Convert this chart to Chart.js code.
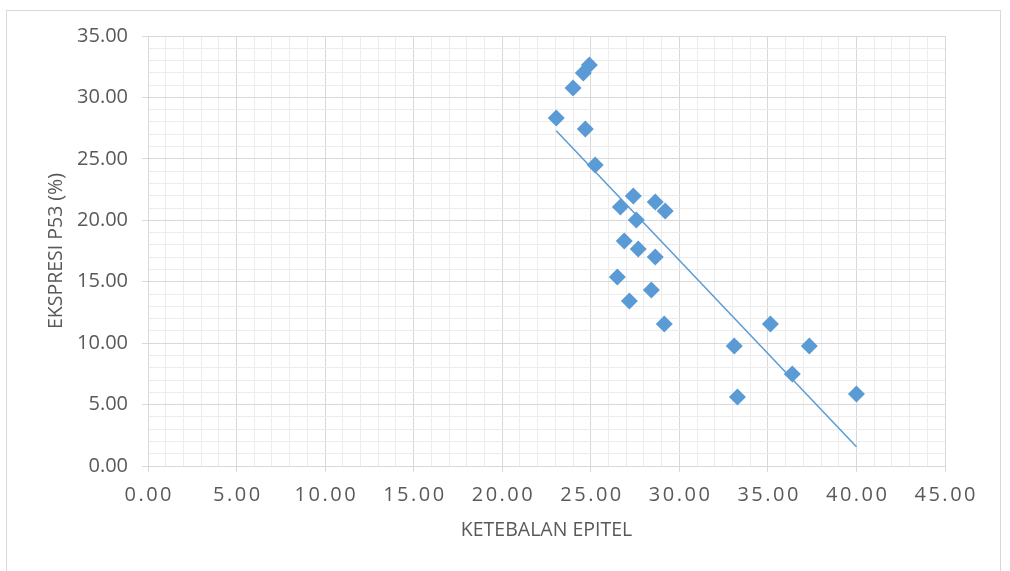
<!DOCTYPE html>
<html>
<head>
<meta charset="utf-8">
<script src="https://cdn.jsdelivr.net/npm/chart.js@4.4.1/dist/chart.umd.min.js"></script>
<style>
  html, body { margin: 0; padding: 0; background: #ffffff; }
  canvas { display: block; }
</style>
</head>
<body>
<canvas id="chart" width="1010" height="571"></canvas>
<script>
// Epithelial thickness (x) against p53 expression (%) for each sample
const ketebalanEpitel = [23.05, 24.00, 24.58, 24.92, 24.69, 25.25, 26.67, 27.40, 28.64, 29.20, 27.57, 26.89,
                         27.68, 28.64, 26.50, 28.42, 27.18, 29.15, 33.10, 35.14, 37.34, 36.38, 33.28, 40.00];
const ekspresiP53     = [28.33, 30.77, 31.99, 32.64, 27.43, 24.50, 21.08, 21.98, 21.49, 20.75, 20.02, 18.31,
                         17.66, 17.01, 15.38, 14.33, 13.43, 11.56, 9.77, 11.56, 9.77, 7.49, 5.62, 5.86];

const xTicks = [0, 5, 10, 15, 20, 25, 30, 35, 40, 45];
const yTicks = [0, 5, 10, 15, 20, 25, 30, 35];
const xTitle = 'KETEBALAN EPITEL';
const yTitle = 'EKSPRESI P53 (%)';

const pointColor = '#5B9BD5';
const textColor = '#595959';
const majorGrid = '#d9d9d9';
const minorGrid = '#ececec';

// Least-squares linear trend over the samples
function linearFit(xs, ys) {
  const n = xs.length;
  const mx = xs.reduce((a, b) => a + b, 0) / n;
  const my = ys.reduce((a, b) => a + b, 0) / n;
  let sxy = 0, sxx = 0;
  for (let i = 0; i < n; i++) {
    sxy += (xs[i] - mx) * (ys[i] - my);
    sxx += (xs[i] - mx) * (xs[i] - mx);
  }
  const slope = sxy / sxx;
  return { slope, intercept: my - slope * mx };
}

const fit = linearFit(ketebalanEpitel, ekspresiP53);
const xMin = Math.min(...ketebalanEpitel);
const xMax = Math.max(...ketebalanEpitel);
const trend = [xMin, xMax].map(x => ({ x, y: fit.intercept + fit.slope * x }));
const points = ketebalanEpitel.map((x, i) => ({ x, y: ekspresiP53[i] }));

const isMajor = v => Math.abs(v % 5) < 1e-9;

// White background and the thin frame around the chart
const framePlugin = {
  id: 'frame',
  beforeDraw(chart) {
    const ctx = chart.ctx;
    ctx.save();
    ctx.fillStyle = '#ffffff';
    ctx.fillRect(0, 0, chart.width, chart.height);
    ctx.strokeStyle = majorGrid;
    ctx.lineWidth = 1;
    ctx.strokeRect(6.5, 10.5, 994, chart.height + 20);
    ctx.restore();
  }
};

// Spaced-out value labels under the horizontal axis
const xLabelPlugin = {
  id: 'xLabels',
  afterDraw(chart) {
    const ctx = chart.ctx;
    const sx = chart.scales.x;
    const spacing = 2.5;
    ctx.save();
    ctx.font = '20px "Open Sans"';
    ctx.fillStyle = textColor;
    ctx.textBaseline = 'middle';
    ctx.textAlign = 'left';
    ctx.letterSpacing = spacing + 'px';
    xTicks.forEach(v => {
      const text = v.toFixed(2);
      const w = ctx.measureText(text).width;
      const px = sx.getPixelForValue(v);
      ctx.fillText(text, px - (w - spacing) / 2, 495);
    });
    ctx.restore();
  }
};

new Chart(document.getElementById('chart'), {
  type: 'scatter',
  data: {
    datasets: [
      {
        label: 'Ekspresi P53',
        data: points,
        pointStyle: 'rectRot',
        pointRadius: 8.5,
        pointHoverRadius: 8.5,
        backgroundColor: pointColor,
        borderWidth: 0,
        order: 0
      },
      {
        label: 'Linear',
        data: trend,
        showLine: true,
        pointRadius: 0,
        borderColor: pointColor,
        borderWidth: 1.5,
        fill: false,
        order: 1
      }
    ]
  },
  options: {
    responsive: false,
    animation: false,
    events: [],
    layout: { padding: { left: 0, right: 65, top: 36, bottom: 0 } },
    plugins: {
      legend: { display: false },
      tooltip: { enabled: false }
    },
    scales: {
      x: {
        type: 'linear',
        min: xTicks[0],
        max: xTicks[xTicks.length - 1],
        afterFit: s => { s.height = 105; },
        ticks: { stepSize: 1, maxTicksLimit: 200, autoSkip: false, display: false },
        grid: {
          color: c => (c.tick && isMajor(c.tick.value)) ? majorGrid : minorGrid,
          tickColor: c => (c.tick && isMajor(c.tick.value)) ? majorGrid : 'rgba(0,0,0,0)',
          tickLength: 6,
          lineWidth: 1
        },
        border: { display: true, color: majorGrid, width: 1 },
        title: {
          display: true,
          text: xTitle,
          color: textColor,
          font: { family: 'Open Sans', size: 19.5 },
          padding: { top: 0, bottom: 29 }
        }
      },
      y: {
        type: 'linear',
        min: yTicks[0],
        max: yTicks[yTicks.length - 1],
        afterFit: s => { s.width = 148; },
        ticks: {
          stepSize: 1,
          maxTicksLimit: 200,
          autoSkip: false,
          padding: 14,
          color: textColor,
          font: { family: 'Open Sans', size: 20 },
          callback: v => (isMajor(v) && yTicks.includes(v)) ? v.toFixed(2) : ''
        },
        grid: {
          color: c => (c.tick && isMajor(c.tick.value)) ? majorGrid : minorGrid,
          tickColor: c => (c.tick && isMajor(c.tick.value)) ? majorGrid : 'rgba(0,0,0,0)',
          tickLength: 6,
          lineWidth: 1
        },
        border: { display: true, color: majorGrid, width: 1 },
        title: {
          display: true,
          text: yTitle,
          color: textColor,
          font: { family: 'Open Sans', size: 19.5 },
          padding: { top: 45, bottom: 0 }
        }
      }
    }
  },
  plugins: [framePlugin, xLabelPlugin]
});
</script>
</body>
</html>
